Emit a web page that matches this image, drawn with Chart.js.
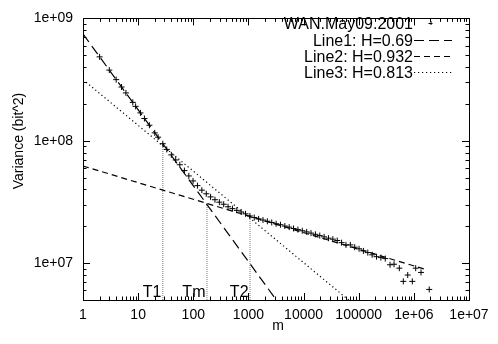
<!DOCTYPE html>
<html>
<head>
<meta charset="utf-8">
<script src="https://cdn.jsdelivr.net/npm/chart.js@4.4.0/dist/chart.umd.min.js"></script>
<style>
  html, body { margin:0; padding:0; background:#fff; }
  canvas { display:block; }
</style>
</head>
<body>
<canvas id="chart" width="498" height="344"></canvas>
<script>
// ── DATA ─────────────────────────────────────────────────
const M_VALUES = [
  2, 3, 4, 5, 6, 8, 9, 11, 13, 16, 20, 23, 28, 33, 40, 48, 57, 69, 83, 99,
  119, 143, 172, 206, 247, 297, 356, 427, 513, 615, 738, 886, 1063, 1276, 1531,
  1837, 2205, 2646, 3175, 3810, 4572, 5486, 6583, 7900, 9480, 11376, 13651,
  16381, 19657, 23589, 28307, 33968, 40762, 48914, 58697, 70436, 84524, 101428,
  121714, 146057, 175268, 210322, 252386, 302863,
  370000, 437000, 545000, 644000, 774000, 938000, 1080000, 1350000, 1900000
];
const VARIANCE = [
  4.85e8, 3.78e8, 3.16e8, 2.75e8, 2.46e8, 2.06e8, 1.91e8, 1.69e8, 1.52e8, 1.34e8,
  1.16e8, 1.07e8, 9.46e7, 8.5e7, 7.67e7, 6.97e7, 6.37e7, 5.71e7, 5.16e7, 4.70e7,
  4.30e7, 3.95e7, 3.69e7, 3.48e7, 3.30e7, 3.15e7, 3.03e7, 2.89e7, 2.79e7, 2.70e7,
  2.62e7, 2.53e7, 2.43e7, 2.36e7, 2.30e7, 2.25e7, 2.20e7, 2.15e7, 2.10e7, 2.06e7,
  2.01e7, 1.97e7, 1.92e7, 1.88e7, 1.84e7, 1.80e7, 1.76e7, 1.72e7, 1.68e7, 1.64e7,
  1.60e7, 1.57e7, 1.53e7, 1.47e7, 1.41e7, 1.41e7, 1.35e7, 1.31e7, 1.26e7, 1.22e7,
  1.17e7, 1.13e7, 1.11e7, 1.09e7,
  9.7e6, 9.8e6, 9.1e6, 7.1e6, 8.0e6, 7.1e6, 9.1e6, 8.4e6, 6.1e6
];
const DATA_NAME = 'WAN.May09.2001';

const LINE_NAMES = ['Line1: H=0.69', 'Line2: H=0.932', 'Line3: H=0.813'];
const LINE_M     = [[1, 10000], [1, 1660000], [1, 100000]];
const LINE_VAR   = [[7.47e8, 2.47e6], [6.22e7, 8.87e6], [3.16e8, 4.27e6]];

const T_NAMES = ['T1', 'Tm', 'T2'];
const T_M     = [28, 177, 1069];
const T_VAR   = [9.46e7, 3.08e7, 2.5e7];

const X_TICKS  = [1, 10, 100, 1000, 10000, 100000, 1e6, 1e7];
const X_LABELS = ['1', '10', '100', '1000', '10000', '100000', '1e+06', '1e+07'];
const Y_TICKS  = [1e7, 1e8, 1e9];
const Y_LABELS = ['1e+07', '1e+08', '1e+09'];

const FONT = "'Liberation Sans', Arial, Helvetica, sans-serif";
Chart.defaults.font.family = FONT;
Chart.defaults.color = '#000';

const DASHES = [[10, 5], [6, 4], [1.2, 2.8]];

// ── DATASETS ─────────────────────────────────────────────
const datasets = [{
  label: DATA_NAME,
  key: true,
  data: M_VALUES.map((m, i) => ({ x: m, y: VARIANCE[i] })),
  pointStyle: 'cross',
  pointRadius: 3,
  borderColor: '#000',
  borderWidth: 1,
  showLine: false,
}];

LINE_NAMES.forEach((name, i) => datasets.push({
  label: name,
  key: true,
  data: LINE_M[i].map((m, j) => ({ x: m, y: LINE_VAR[i][j] })),
  showLine: true,
  borderColor: '#000',
  borderWidth: 1.2,
  borderDash: DASHES[i],
  pointRadius: 0,
  fill: false,
}));

T_NAMES.forEach((name, i) => datasets.push({
  label: name,
  data: [{ x: T_M[i], y: 5e6 }, { x: T_M[i], y: T_VAR[i] }],
  showLine: true,
  borderColor: '#777',
  borderWidth: 1,
  borderDash: [1, 1],
  pointRadius: 0,
}));

// ── PLUGIN: frame, inward ticks, titles, key ─────────────
const gnuplotLook = {
  id: 'gnuplotLook',
  afterDraw(chart) {
    const { ctx, chartArea: a, scales } = chart;
    ctx.save();
    ctx.strokeStyle = '#000';
    ctx.lineWidth = 1;
    ctx.setLineDash([]);
    ctx.strokeRect(Math.round(a.left) + 0.5, Math.round(a.top) + 0.5,
                   Math.round(a.right - a.left), Math.round(a.bottom - a.top));

    const ticksFor = (scale, draw) => {
      const lo = Math.floor(Math.log10(scale.min)), hi = Math.ceil(Math.log10(scale.max));
      for (let e = lo; e <= hi; e++) {
        for (let k = 1; k < 10; k++) {
          const v = k * Math.pow(10, e);
          if (v < scale.min * 0.999 || v > scale.max * 1.001) continue;
          draw(Math.round(scale.getPixelForValue(v)) + 0.5, k === 1 ? 7 : 3.5);
        }
      }
    };
    ctx.beginPath();
    ticksFor(scales.x, (p, len) => {
      ctx.moveTo(p, a.bottom); ctx.lineTo(p, a.bottom - len);
      ctx.moveTo(p, a.top);    ctx.lineTo(p, a.top + len);
    });
    ticksFor(scales.y, (p, len) => {
      ctx.moveTo(a.left, p);  ctx.lineTo(a.left + len, p);
      ctx.moveTo(a.right, p); ctx.lineTo(a.right - len, p);
    });
    ctx.stroke();

    // axis titles
    ctx.fillStyle = '#000';
    ctx.font = `14px ${FONT}`;
    ctx.textAlign = 'center';
    ctx.textBaseline = 'middle';
    ctx.fillText('m', (a.left + a.right) / 2 + 2, 326);
    ctx.save();
    ctx.translate(19, 141);
    ctx.rotate(-Math.PI / 2);
    ctx.fillText('Variance (bit^2)', 0, 0);
    ctx.restore();

    // T labels next to the vertical lines
    ctx.font = `16px ${FONT}`;
    ctx.textAlign = 'right';
    ctx.textBaseline = 'alphabetic';
    T_NAMES.forEach((name, i) => {
      ctx.fillText(name, scales.x.getPixelForValue(T_M[i]) - 1.5, a.bottom - 3);
    });

    // key, gnuplot style: text right-justified, sample to the right
    const rows = [23, 40, 56, 72];
    const tx = a.right - 56, s0 = a.right - 55, s1 = a.right - 17;
    chart.data.datasets.filter(d => d.key).forEach((d, i) => {
      const y = rows[i];
      ctx.fillText(d.label, tx, y + 6);
      ctx.beginPath();
      if (d.showLine) {
        ctx.setLineDash(d.borderDash || []);
        ctx.lineWidth = d.borderWidth;
        ctx.moveTo(s0, y + 0.5); ctx.lineTo(s1, y + 0.5);
      } else {
        ctx.setLineDash([]);
        ctx.lineWidth = 1;
        const cx = (s0 + s1) / 2 - 2.5;
        ctx.moveTo(cx - 2, y + 0.5); ctx.lineTo(cx + 2, y + 0.5);
        ctx.moveTo(cx + 0.5, y - 2); ctx.lineTo(cx + 0.5, y + 2);
      }
      ctx.stroke();
    });
    ctx.restore();
  }
};

// ── CHART ────────────────────────────────────────────────
new Chart(document.getElementById('chart'), {
  type: 'scatter',
  data: { datasets },
  options: {
    responsive: false,
    animation: false,
    devicePixelRatio: 1,
    layout: { padding: { top: 12, right: 29, left: 0, bottom: 0 } },
    plugins: { legend: { display: false }, tooltip: { enabled: false } },
    scales: {
      x: {
        type: 'logarithmic',
        min: 1, max: 1e7,
        grid: { display: false, drawTicks: false },
        border: { display: false },
        afterBuildTicks: s => { s.ticks = X_TICKS.map(v => ({ value: v })); },
        afterFit: s => { s.height = 44; },
        ticks: {
          autoSkip: false, maxRotation: 0, padding: 7,
          font: { size: 14 }, color: '#000',
          callback: (v, i) => X_LABELS[i],
        },
      },
      y: {
        type: 'logarithmic',
        min: 5e6, max: 1e9,
        grid: { display: false, drawTicks: false },
        border: { display: false },
        afterBuildTicks: s => { s.ticks = Y_TICKS.map(v => ({ value: v })); },
        afterFit: s => { s.width = 83; },
        ticks: {
          autoSkip: false, padding: 10,
          font: { size: 14 }, color: '#000',
          callback: (v, i) => Y_LABELS[i],
        },
      },
    },
  },
  plugins: [gnuplotLook],
});
</script>
</body>
</html>
